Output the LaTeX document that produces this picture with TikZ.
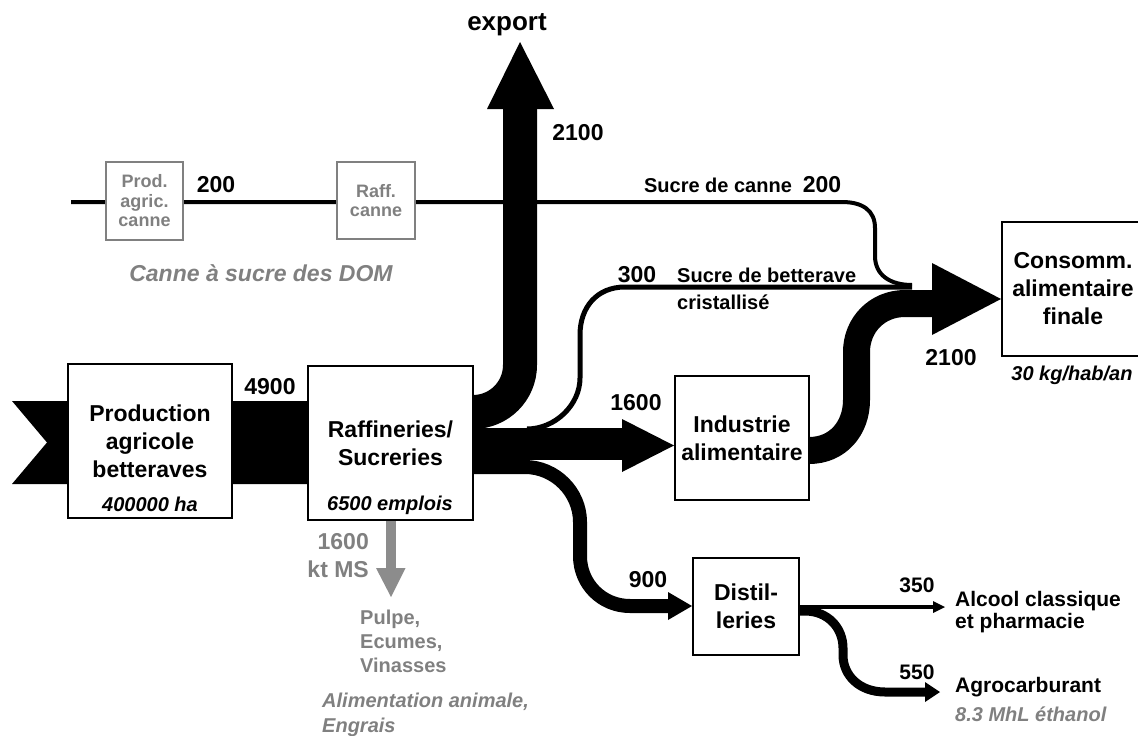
\documentclass[tikz,border=0pt]{standalone}
\usepackage{fontspec}
\setmainfont{Liberation Sans}
\definecolor{gr}{RGB}{128,128,128}
\definecolor{grarrow}{RGB}{140,140,140}
\pgfdeclarelayer{bg}
\pgfsetlayers{bg,main}
\begin{document}
\begin{tikzpicture}[x=1pt,y=-1pt,
 box/.style={draw,line width=2pt,fill=white,inner sep=0pt,align=center,font=\fontsize{23}{28}\selectfont\bfseries},
 gbox/.style={draw=gr,line width=2pt,fill=white,text=gr,inner sep=0pt,align=center,font=\fontsize{18}{19.5}\selectfont\bfseries},
 num/.style={inner sep=0pt,align=center,font=\fontsize{23}{28}\selectfont\bfseries},
 snum/.style={inner sep=0pt,font=\fontsize{21}{24}\selectfont\bfseries},
 lbl/.style={inner sep=0pt,align=left,font=\fontsize{20}{27}\selectfont\bfseries},
 dlbl/.style={inner sep=0pt,align=left,font=\fontsize{21}{22}\selectfont\bfseries},
 sub/.style={inner sep=0pt,align=left,font=\fontsize{20}{25}\selectfont\bfseries\itshape},
 band/.style={line cap=butt,line join=round},
]
\useasboundingbox (0,0) rectangle (1138,736);

% boxes
\node[box,minimum width=164pt,minimum height=154pt] (prod) at (150,441) {Production\\agricole\\betteraves};
\node[box,minimum width=165pt,minimum height=154pt] (raf) at (390.5,443) {Raffineries/\\Sucreries};
\node[box,minimum width=134pt,minimum height=124pt] (ind) at (742,438) {Industrie\\alimentaire};
\node[box,minimum width=106pt,minimum height=97pt] (dist) at (746,606.5) {Distil-\\leries};
\node[box,minimum width=142pt,minimum height=134pt] (cons) at (1073,289) {Consomm.\\alimentaire\\finale};
\node[gbox,minimum width=77pt,minimum height=78pt] (pcanne) at (144.5,201) {Prod.\\agric.\\canne};
\node[gbox,minimum width=78pt,minimum height=77pt] (rcanne) at (376,200.5) {Raff.\\canne};

% coordinates
\coordinate (canneS) at (71,202);
\coordinate (canneE) at (912,285);
\coordinate (expS) at (473,412);
\coordinate (expE) at (520,42);
\coordinate (s300) at (527,429);
\coordinate (e300) at (912,287);
\coordinate (indS) at (809,450.5);
\coordinate (consS) at (934,303.5);
\coordinate (pulpe) at (391,597);

\begin{pgfonlayer}{bg}
% input band with notch
\fill (12,401) -- (308,401) -- (308,484) -- (12,484) -- (47,442.5) -- cycle;
% canne line
\draw[band,line width=4pt] (canneS) -- (842,202) .. controls (862,202) and (875,210) .. (875,228) -- (875,256) .. controls (875,275) and (890,285) .. (canneE);
% export
\draw[band,line width=34pt] (expS) .. controls (499,412) and (520,391) .. (520,365) -- (520,108);
\fill (487,109) -- (554,109) -- (expE) -- cycle;
% 1600 to industrie
\draw[band,line width=32pt] (raf.east |- 0,444) -- (623,444);
\fill (622,419) -- (ind.west |- 0,445.5) -- (622,472) -- cycle;
% 300 line
\draw[band,line width=5pt] (s300) .. controls (555,429) and (580,405) .. (580,378) -- (580,335) .. controls (580,307) and (597,287) .. (625,287) -- (e300);
% 900 to distilleries
\draw[band,line width=14pt] (raf.east |- 0,467) -- (525,467) .. controls (555,467) and (580,492) .. (580,522) -- (580,556) .. controls (580,584) and (602,606) .. (630,606) -- (669,606);
\fill (668,592) -- (dist.west |- 0,606) -- (668,620) -- cycle;
% 2100 industrie to consommation
\draw[band,line width=27pt] (indS) .. controls (838,450.5) and (856.5,428) .. (856.5,400) -- (856.5,352) .. controls (856.5,325) and (877,303.5) .. (905,303.5) -- (consS);
\fill (932,263) -- (cons.west |- 0,299) -- (932,335) -- cycle;
% 350
\draw[band,line width=4pt] (dist.east |- 0,607) -- (934,607);
\fill (933,601) -- (945,607) -- (933,613) -- cycle;
% 550
\draw[band,line width=9pt] (dist.east |- 0,611) -- (805,611) .. controls (828,611) and (843,628) .. (843,648) -- (843,655) .. controls (843,676) and (860,692) .. (885,692) -- (926,692);
\fill (925,682) -- (940,692) -- (925,702) -- cycle;
% gray pulp arrow
\draw[band,line width=10pt,grarrow] (raf.south -| 391,0) -- (391,569);
\fill[grarrow] (376,568) -- (405.5,568) -- (pulpe) -- cycle;
\end{pgfonlayer}

% labels
\node[inner sep=0pt,font=\fontsize{26}{30}\selectfont\bfseries] (lexp) at (507,25) {export};
\node[num] (l2100a) at (578,133) {2100};
\node[num] (l4900) at (270,387) {4900};
\node[num] (l200a) at (216,185) {200};
\node[lbl] (lsc) at (718,185) {Sucre de canne};
\node[num] (l200b) at (822,185) {200};
\node[num] (l300) at (637,275) {300};
\node[lbl,anchor=west] (lsb) at (677,288.5) {Sucre de betterave\\cristallisé};
\node[num] (l1600) at (636,403) {1600};
\node[num] (l2100b) at (951,358) {2100};
\node[num] (l900) at (648,580) {900};
\node[snum] (l350) at (917,585) {350};
\node[snum] (l550) at (917,672) {550};
\node[dlbl,anchor=west] (lalc) at (955,612) {Alcool classique\\et pharmacie};
\node[dlbl,anchor=west] (lagro) at (955,687) {Agrocarburant};
\node[sub,anchor=west,text=gr] (leth) at (955,714) {8.3 MhL éthanol};
\node[sub] (lha) at (150,504) {400000 ha};
\node[sub] (lemp) at (390,505) {6500 emplois};
\node[sub] (lkg) at (1072,375) {30 kg/hab/an};
\node[inner sep=0pt,text=gr,font=\fontsize{23}{28}\selectfont\bfseries\itshape] (ldom) at (261,273) {Canne à sucre des DOM};
\node[num,anchor=east,align=right,text=gr] (lkt) at (369,556) {1600\\kt MS};
\node[inner sep=0pt,anchor=west,align=left,text=gr,font=\fontsize{20}{24}\selectfont\bfseries] (lpulpe) at (360,641) {Pulpe,\\Ecumes,\\Vinasses};
\node[sub,anchor=west,text=gr] (lalim) at (322,714.5) {Alimentation animale,\\Engrais};
\end{tikzpicture}
\end{document}
